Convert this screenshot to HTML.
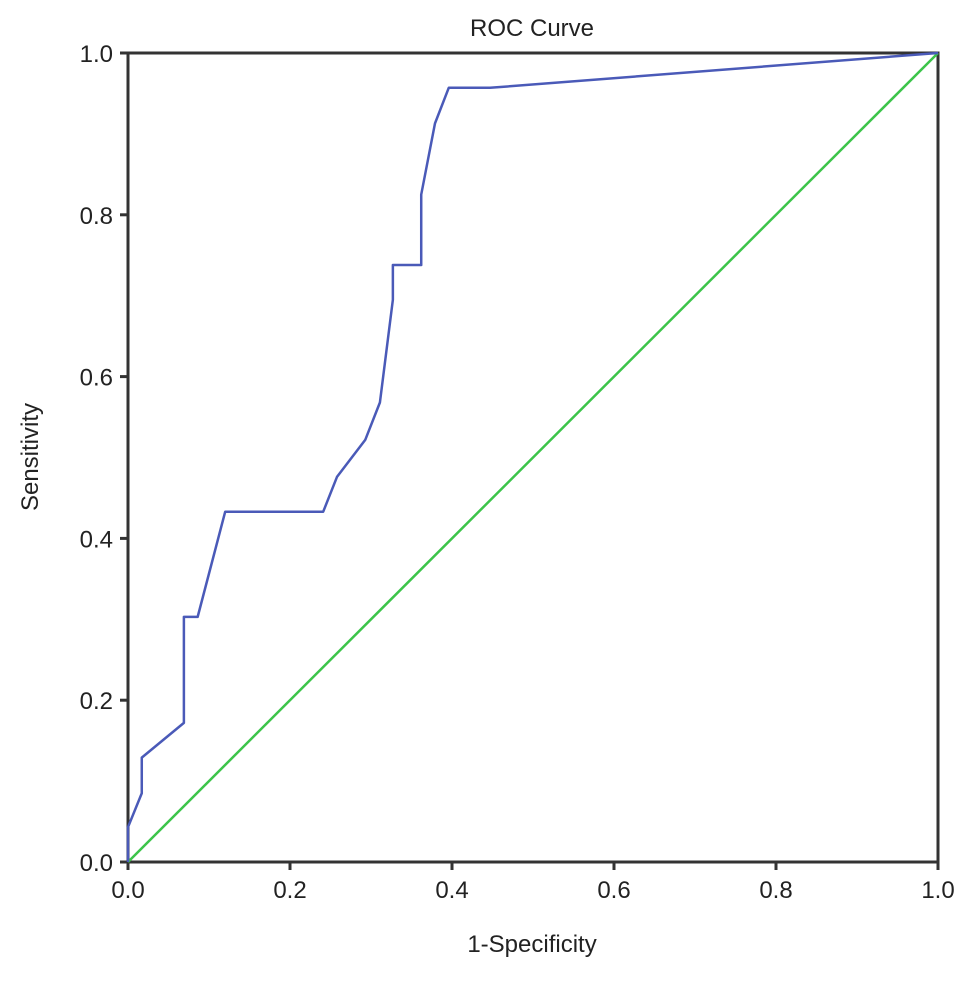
<!DOCTYPE html>
<html><head><meta charset="utf-8"><style>
body{margin:0;background:#fff;}
svg text{font-family:"Liberation Sans",Arial,sans-serif;fill:#222;}
</style></head><body>
<svg id="chart" width="969" height="976" viewBox="0 0 969 976" xmlns="http://www.w3.org/2000/svg">
<text x="532" y="36" font-size="24" text-anchor="middle">ROC Curve</text>
<text x="532" y="952" font-size="24" text-anchor="middle">1-Specificity</text>
<text transform="translate(38,457) rotate(-90)" font-size="24" text-anchor="middle">Sensitivity</text>
<g id="plot"></g>
</svg>
<script>
const fpr = [0, 0, 0.017, 0.017, 0.069, 0.069, 0.086, 0.12, 0.241, 0.258, 0.293, 0.311, 0.327, 0.327, 0.362, 0.362, 0.379, 0.396, 0.447, 1];
const tpr = [0, 0.043, 0.085, 0.129, 0.172, 0.303, 0.303, 0.433, 0.433, 0.476, 0.522, 0.568, 0.695, 0.738, 0.738, 0.825, 0.913, 0.957, 0.957, 1];
const refX = [0, 1];
const refY = [0, 1];
const ticks = [0, 0.2, 0.4, 0.6, 0.8, 1.0];
const tickLabels = ["0.0", "0.2", "0.4", "0.6", "0.8", "1.0"];

const X0 = 128, X1 = 938, Y0 = 862, Y1 = 53;
const sx = v => X0 + v * (X1 - X0);
const sy = v => Y0 - v * (Y0 - Y1);
const NS = "http://www.w3.org/2000/svg";
const g = document.getElementById('plot');
function mk(tag, attrs) { const e = document.createElementNS(NS, tag); for (const k in attrs) e.setAttribute(k, attrs[k]); g.appendChild(e); return e; }

const frame = mk('rect', {x: X0, y: Y1, width: X1 - X0, height: Y0 - Y1, fill: 'none', stroke: '#333', 'stroke-width': 3});



ticks.forEach((t, i) => {
  const xt = mk('line', {x1: sx(t), x2: sx(t), y1: Y0, y2: Y0 + 8, stroke: '#333', 'stroke-width': 3});
  
  
  const xl = mk('text', {x: sx(t), y: Y0 + 36, 'font-size': 24, 'text-anchor': 'middle'});
  xl.textContent = tickLabels[i];
  
  
  const yt = mk('line', {x1: X0 - 8, x2: X0, y1: sy(t), y2: sy(t), stroke: '#333', 'stroke-width': 3});
  
  
  const yl = mk('text', {x: X0 - 15, y: sy(t) + 9, 'font-size': 24, 'text-anchor': 'end'});
  yl.textContent = tickLabels[i];
  
  
});

const ref = mk('polyline', {points: refX.map((v, i) => sx(v) + ',' + sy(refY[i])).join(' '), fill: 'none', stroke: '#3cc44a', 'stroke-width': 2.5});



const roc = mk('polyline', {points: fpr.map((v, i) => sx(v) + ',' + sy(tpr[i])).join(' '), fill: 'none', stroke: '#4a5ab8', 'stroke-width': 2.5, 'stroke-linejoin': 'round'});


</script>
</body></html>
